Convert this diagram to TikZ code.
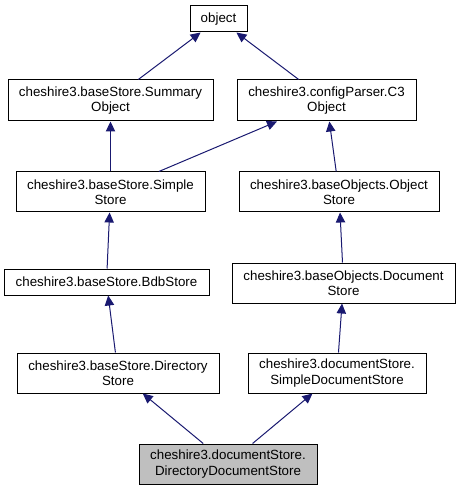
\documentclass[tikz,border=0pt]{standalone}
\usepackage{fontspec}
\setmainfont{Liberation Sans}
\usepackage{tikz}
\usetikzlibrary{arrows.meta}
\usepackage{xcolor}
\definecolor{edgeblue}{HTML}{191970}
\definecolor{focusgray}{HTML}{BFBFBF}

\begin{document}
\begin{tikzpicture}[
    x=0.75pt, y=-0.75pt,
    class node/.style={rectangle, draw=black, fill=white, line width=0.75pt, inner sep=0pt, align=center, font=\fontsize{10}{11.5}\selectfont, minimum height=30pt},
    one line/.style={minimum height=19.5pt},
    focus node/.style={class node, fill=focusgray},
    inherit/.style={draw=edgeblue, line width=0.75pt, -{Triangle[length=7.5pt, width=7pt]}}
]
    \useasboundingbox (0,0) rectangle (460,491);

    % Nodes
    \node[class node, one line, minimum width=42.75pt] (object) at (218.5,19) {object};
    \node[class node, minimum width=153.75pt, minimum height=30.75pt] (summary) at (110.5,100.5) {cheshire3.baseStore.Summary\\Object};
    \node[class node, minimum width=134.25pt, minimum height=30.75pt] (c3object) at (326.5,100.5) {cheshire3.configParser.C3\\Object};
    \node[class node, minimum width=141.75pt] (simple) at (110.5,192) {cheshire3.baseStore.Simple\\Store};
    \node[class node, minimum width=150pt] (objstore) at (339,192) {cheshire3.baseObjects.Object\\Store};
    \node[class node, one line, minimum width=153.75pt] (bdb) at (106.5,282) {cheshire3.baseStore.BdbStore};
    \node[class node, minimum width=167.25pt] (docstore) at (343.5,283) {cheshire3.baseObjects.Document\\Store};
    \node[class node, minimum width=151.5pt] (dirstore) at (118,373) {cheshire3.baseStore.Directory\\Store};
    \node[class node, minimum width=133.5pt] (simpledoc) at (337,373) {cheshire3.documentStore.\\SimpleDocumentStore};
    \node[focus node, minimum width=133.5pt] (dirdoc) at (228,464) {cheshire3.documentStore.\\DirectoryDocumentStore};

    % Edges (child -> parent)
    \draw[inherit] (summary) -- (object);
    \draw[inherit] (c3object) -- (object);
    \draw[inherit] (simple) -- (summary);
    \draw[inherit] (simple) -- (c3object);
    \draw[inherit] (objstore) -- (c3object);
    \draw[inherit] (bdb) -- (simple);
    \draw[inherit] (docstore) -- (objstore);
    \draw[inherit] (dirstore) -- (bdb);
    \draw[inherit] (simpledoc) -- (docstore);
    \draw[inherit] (dirdoc) -- (dirstore);
    \draw[inherit] (dirdoc) -- (simpledoc);
\end{tikzpicture}
\end{document}
